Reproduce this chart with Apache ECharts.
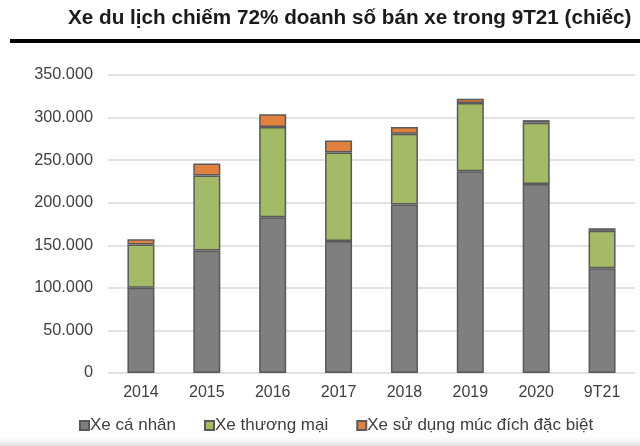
<!DOCTYPE html>
<html>
<head>
<meta charset="utf-8">
<script src="https://cdn.jsdelivr.net/npm/echarts@6/dist/echarts.min.js"></script>
<style>html,body{margin:0;padding:0;background:#fff;}#c{width:640px;height:446px;}</style>
</head>
<body>
<div id="c"></div>
<script>
const categories = ['2014','2015','2016','2017','2018','2019','2020','9T21'];
const personal = [100000,144000,183000,155000,198000,237000,222000,123000];
const commercial = [51000,88000,106000,104000,83000,80000,72000,44000];
const special = [6000,14000,15000,14000,8000,5000,3000,3000];
const seriesNames = ['Xe cá nhân','Xe thương mại','Xe sử dụng múc đích đặc biệt'];
const yTicks = [0,50000,100000,150000,200000,250000,300000,350000];

const chart = echarts.init(document.getElementById('c'));
const font = 'Liberation Sans, Arial, sans-serif';
function fmt(v){ return v === 0 ? '0' : String(v).replace(/\B(?=(\d{3})+(?!\d))/g, '.'); }
const colors = ['#7f7f7f','#a3bb66','#e2803f'];
const datas = [personal, commercial, special];
chart.setOption({
  animation:false,
  title:{text:'Xe du lịch chiếm 72% doanh số bán xe trong 9T21 (chiếc)', left:63, top:3,
    textStyle:{fontFamily:font, fontSize:20.7, fontWeight:'bold', color:'#1a1a1a'}},
  legend:{bottom:7, left:74, itemWidth:9, itemHeight:9, itemGap:28, icon:'rect',
    textStyle:{fontFamily:font, fontSize:17, color:'#404040', padding:[0,0,0,-4]},
    data:seriesNames},
  grid:{left:108, right:5, top:75, bottom:73},
  xAxis:{type:'category', data:categories,
    axisLine:{show:false}, axisTick:{show:false},
    axisLabel:{fontFamily:font, fontSize:16, color:'#404040', margin:12}},
  yAxis:{type:'value', min:0, max:350000, interval:50000,
    axisLine:{show:false}, axisTick:{show:false},
    splitLine:{lineStyle:{color:'#d9d9d9', width:1.5}},
    axisLabel:{fontFamily:font, fontSize:16.3, color:'#404040', margin:15, formatter:fmt}},
  graphic:[
    {type:'rect', shape:{x:10, y:39, width:630, height:4}, style:{fill:'#000'}},
    {type:'rect', shape:{x:0, y:434, width:640, height:12}, style:{fill:new echarts.graphic.LinearGradient(0,0,0,1,[{offset:0,color:'rgba(255,255,255,0)'},{offset:1,color:'rgba(200,200,200,0.6)'}])}}
  ],
  series: seriesNames.map((n,i)=>({
    name:n, type:'bar', stack:'t', data:datas[i], barWidth:'41%',
    itemStyle:{color:colors[i], borderColor:'#595959', borderWidth:1.5}
  }))
});
</script>
</body>
</html>
